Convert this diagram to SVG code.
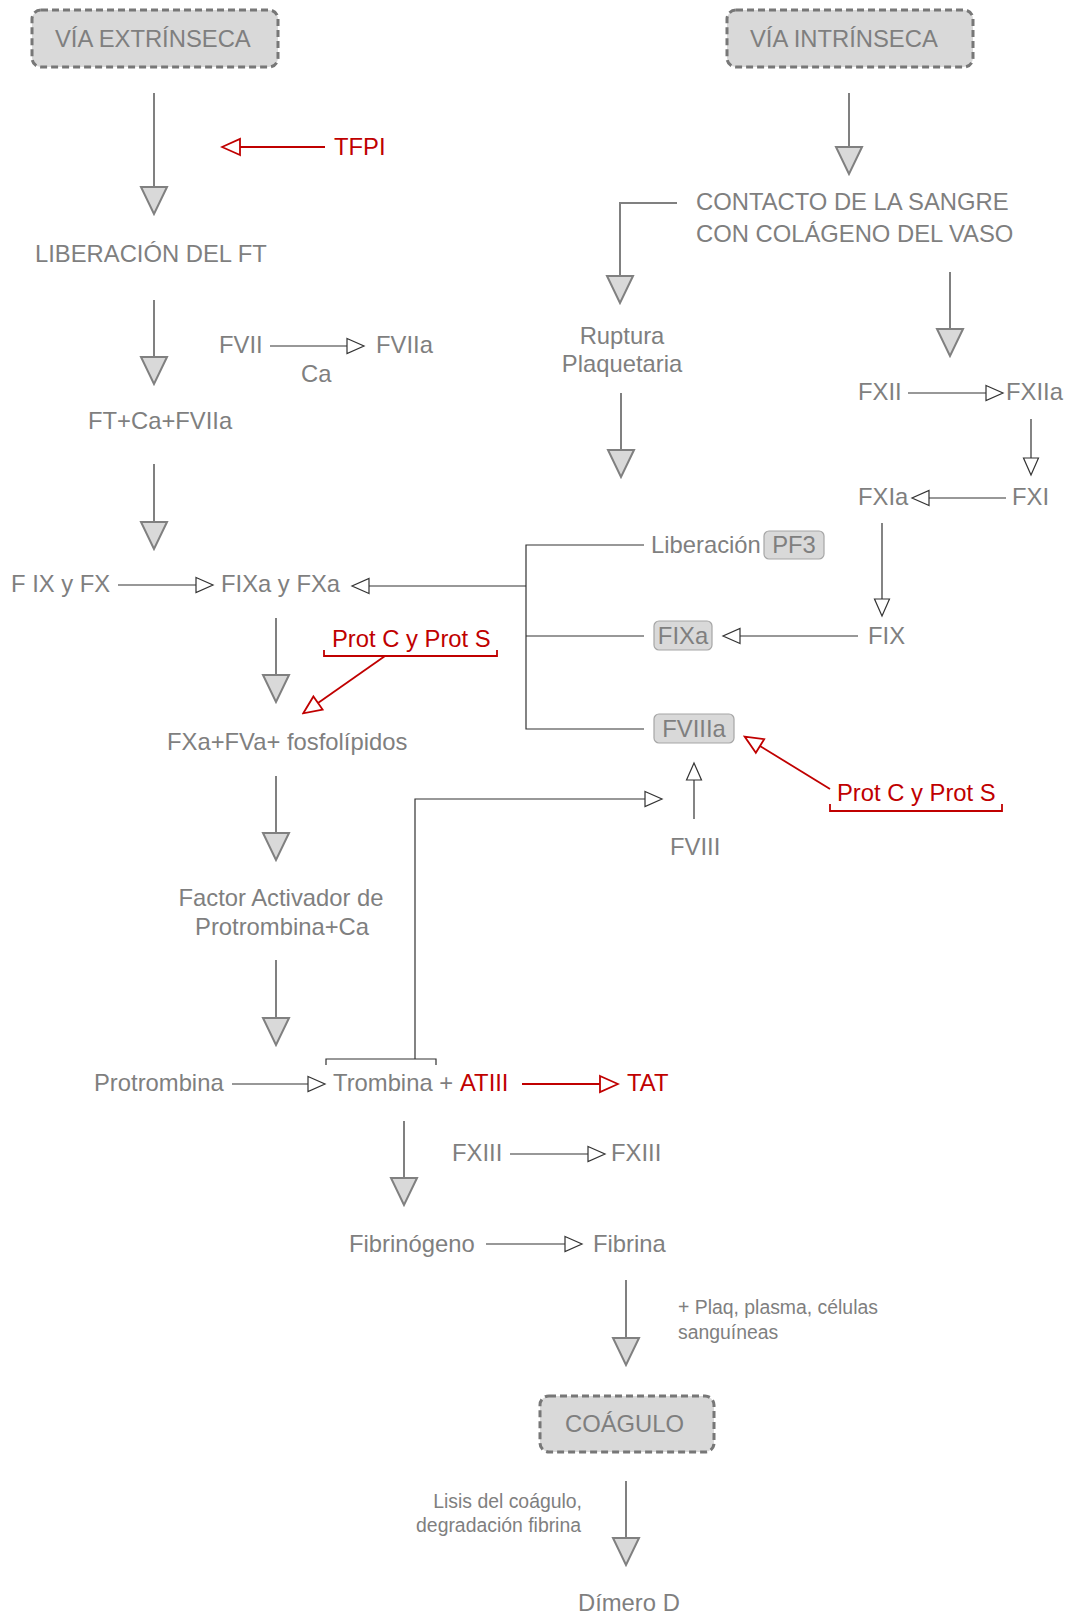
<svg xmlns="http://www.w3.org/2000/svg" width="1069" height="1615" viewBox="0 0 1069 1615">
<defs>
<style>
text{font-family:"Liberation Sans",Arial,sans-serif;font-size:23.8px;fill:#7f7f7f}
.red{fill:#c00000}
.sm{font-size:19.4px}
.mid{text-anchor:middle}
.end{text-anchor:end}
.big{stroke:#808080;stroke-width:2;fill:none;marker-end:url(#big)}
.thin{stroke:#333;stroke-width:1.2;fill:none}
.thinA{stroke:#333;stroke-width:1.2;fill:none;marker-end:url(#open)}
.redA{stroke:#c00000;stroke-width:1.8;fill:none;marker-end:url(#openRed)}
.redL{stroke:#c00000;stroke-width:1.8;fill:none}
.dash{fill:#d9d9d9;stroke:#777;stroke-width:3;stroke-dasharray:7 4}
.tag{fill:#d9d9d9;stroke:#a6a6a6;stroke-width:1.2}
</style>
<marker id="big" markerUnits="userSpaceOnUse" viewBox="-2 -15 31 30" markerWidth="31" markerHeight="30" refX="0" refY="0" orient="auto">
<path d="M0,-13 L27,0 L0,13 Z" fill="#d9d9d9" stroke="#808080" stroke-width="2" stroke-linejoin="miter"/>
</marker>
<marker id="open" markerUnits="userSpaceOnUse" viewBox="-1 -9 20 18" markerWidth="20" markerHeight="18" refX="0" refY="0" orient="auto">
<path d="M0,-7.5 L17,0 L0,7.5 Z" fill="#fff" stroke="#333" stroke-width="1.2"/>
</marker>
<marker id="openRed" markerUnits="userSpaceOnUse" viewBox="-2 -10 22 20" markerWidth="22" markerHeight="20" refX="0" refY="0" orient="auto">
<path d="M0,-8 L18,0 L0,8 Z" fill="#fff" stroke="#c00000" stroke-width="1.8"/>
</marker>
</defs>
<rect width="1069" height="1615" fill="#fff"/>

<g id="connectors">
<line class="big" x1="154" y1="93" x2="154" y2="187"/>
<line class="big" x1="154" y1="300" x2="154" y2="357"/>
<line class="big" x1="154" y1="464" x2="154" y2="522"/>
<line class="big" x1="849" y1="93" x2="849" y2="147"/>
<polyline class="big" points="677,203 620,203 620,276"/>
<line class="big" x1="950" y1="272" x2="950" y2="329"/>
<line class="big" x1="621" y1="393" x2="621" y2="450"/>
<line class="big" x1="276" y1="618" x2="276" y2="675"/>
<line class="big" x1="276" y1="776" x2="276" y2="833"/>
<line class="big" x1="276" y1="960" x2="276" y2="1018"/>
<line class="big" x1="404" y1="1121" x2="404" y2="1178"/>
<line class="big" x1="626" y1="1280" x2="626" y2="1338"/>
<line class="big" x1="626" y1="1481" x2="626" y2="1538"/>

<line class="redA" x1="325" y1="147" x2="240" y2="147"/>
<line class="thinA" x1="270" y1="346" x2="347" y2="346"/>
<line class="thinA" x1="118" y1="585" x2="196" y2="585"/>
<line class="thinA" x1="526" y1="586" x2="369" y2="586"/>
<polyline class="thin" points="644,545 526,545 526,729 644,729"/>
<line class="thin" x1="526" y1="636" x2="644" y2="636"/>
<line class="thinA" x1="908" y1="393" x2="986" y2="393"/>
<line class="thinA" x1="1031" y1="419" x2="1031" y2="458"/>
<line class="thinA" x1="1006" y1="498" x2="929" y2="498"/>
<line class="thinA" x1="882" y1="523" x2="882" y2="599"/>
<line class="thinA" x1="858" y1="636" x2="740" y2="636"/>
<line class="thinA" x1="694" y1="819" x2="694" y2="780"/>
<polyline class="thin" points="326,1065 326,1059 436,1059 436,1065"/>
<polyline class="thinA" points="415,1059 415,799 645,799"/>
<line class="thinA" x1="232" y1="1084" x2="308" y2="1084"/>
<line class="redA" x1="522" y1="1084" x2="600" y2="1084"/>
<line class="thinA" x1="510" y1="1154" x2="588" y2="1154"/>
<line class="thinA" x1="486" y1="1244" x2="565" y2="1244"/>

<polyline class="redL" points="324,650 324,656 497,656 497,650"/>
<line class="redA" x1="385" y1="656" x2="318" y2="703"/>
<polyline class="redL" points="830,804 830,811 1002,811 1002,804"/>
<line class="redA" x1="830" y1="789" x2="760" y2="746"/>
</g>

<g id="via-extrinseca"><rect class="dash" x="32" y="10" width="246" height="57" rx="9"/><text x="55" y="47">VÍA EXTRÍNSECA</text></g>
<g id="via-intrinseca"><rect class="dash" x="727" y="10" width="246" height="57" rx="9"/><text x="750" y="47">VÍA INTRÍNSECA</text></g>
<g id="tfpi"><text class="red" x="334" y="155">TFPI</text></g>
<g id="liberacion-ft"><text x="35" y="262">LIBERACIÓN DEL FT</text></g>
<g id="fvii"><text x="219" y="353">FVII</text></g>
<g id="fviia"><text x="376" y="353">FVIIa</text></g>
<g id="ca"><text x="301" y="382">Ca</text></g>
<g id="ft-ca-fviia"><text x="88" y="429">FT+Ca+FVIIa</text></g>
<g id="fix-fx"><text x="11" y="592">F IX y FX</text></g>
<g id="fixa-fxa"><text x="221" y="592">FIXa y FXa</text></g>
<g id="protcs-left"><text class="red" x="332" y="647">Prot C y Prot S</text></g>
<g id="fxa-fva"><text x="167" y="750">FXa+FVa+ fosfolípidos</text></g>
<g id="factor-activador"><text class="mid" x="281" y="906">Factor Activador de</text><text class="mid" x="282" y="935">Protrombina+Ca</text></g>
<g id="protrombina"><text x="94" y="1091">Protrombina</text></g>
<g id="trombina"><text x="333" y="1091">Trombina +</text><text class="red" x="460" y="1091">ATIII</text></g>
<g id="tat"><text class="red" x="627" y="1091">TAT</text></g>
<g id="fxiii-a"><text x="452" y="1161">FXIII</text></g>
<g id="fxiii-b"><text x="611" y="1161">FXIII</text></g>
<g id="fibrinogeno"><text x="349" y="1252">Fibrinógeno</text></g>
<g id="fibrina"><text x="593" y="1252">Fibrina</text></g>
<g id="plaq"><text class="sm" x="678" y="1314">+ Plaq, plasma, células</text><text class="sm" x="678" y="1339">sanguíneas</text></g>
<g id="coagulo"><rect class="dash" x="540" y="1396" width="174" height="56" rx="9"/><text x="565" y="1432">COÁGULO</text></g>
<g id="lisis"><text class="sm end" x="582" y="1508">Lisis del coágulo,</text><text class="sm end" x="581" y="1532">degradación fibrina</text></g>
<g id="dimero"><text x="578" y="1611">Dímero D</text></g>
<g id="contacto"><text x="696" y="210">CONTACTO DE LA SANGRE</text><text x="696" y="242">CON COLÁGENO DEL VASO</text></g>
<g id="ruptura"><text class="mid" x="622" y="344">Ruptura</text><text class="mid" x="622" y="372">Plaquetaria</text></g>
<g id="fxii"><text x="858" y="400">FXII</text></g>
<g id="fxiia"><text x="1006" y="400">FXIIa</text></g>
<g id="fxia"><text x="858" y="505">FXIa</text></g>
<g id="fxi"><text x="1012" y="505">FXI</text></g>
<g id="liberacion-pf3"><text x="651" y="553">Liberación</text><rect class="tag" x="764" y="531" width="60" height="28" rx="5"/><text class="mid" x="794" y="553">PF3</text></g>
<g id="fixa"><rect class="tag" x="654" y="621" width="58" height="29" rx="5"/><text class="mid" x="683" y="644">FIXa</text></g>
<g id="fix"><text x="868" y="644">FIX</text></g>
<g id="fviiia"><rect class="tag" x="654" y="714" width="80" height="29" rx="5"/><text class="mid" x="694" y="737">FVIIIa</text></g>
<g id="protcs-right"><text class="red" x="837" y="801">Prot C y Prot S</text></g>
<g id="fviii"><text x="670" y="855">FVIII</text></g>
</svg>
